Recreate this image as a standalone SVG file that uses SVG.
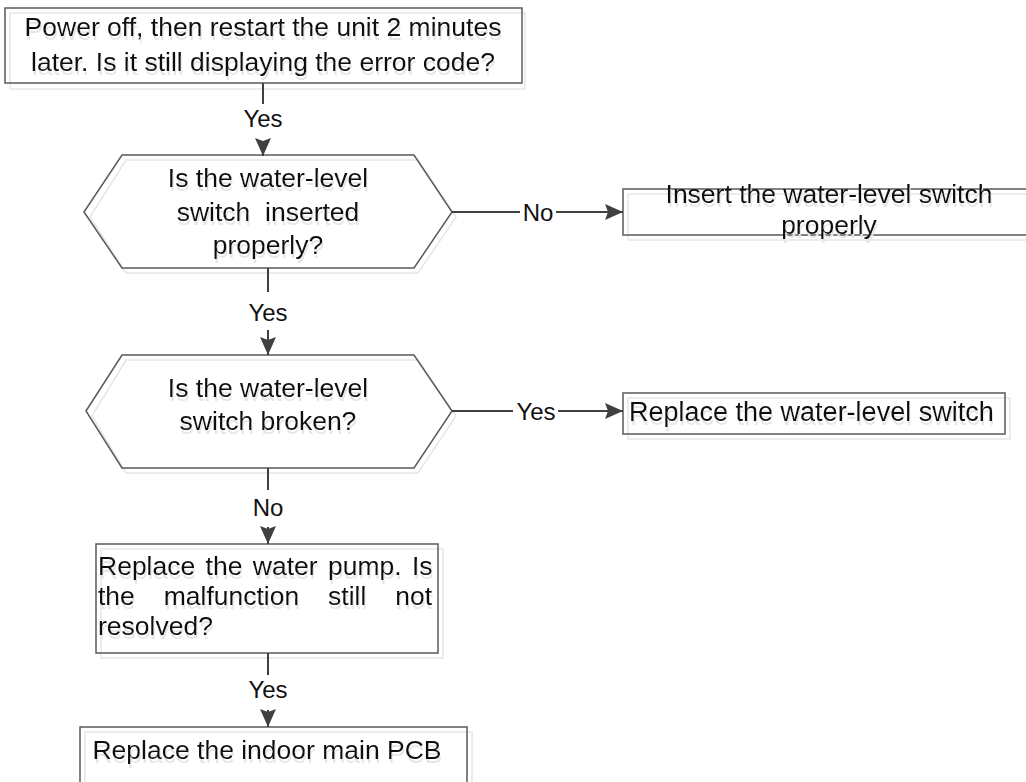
<svg xmlns="http://www.w3.org/2000/svg" width="1026" height="782" viewBox="0 0 1026 782">
<defs>
<marker id="ah" markerUnits="userSpaceOnUse" markerWidth="18" markerHeight="16" refX="18" refY="8" orient="auto"><path d="M0,0 L18,8 L0,16 L3,8 z" fill="#404040"/></marker>
<filter id="ts" x="-5%" y="-30%" width="110%" height="170%"><feFlood flood-color="#e6e6e6"/><feComposite in2="SourceAlpha" operator="in"/><feOffset dx="1" dy="4"/><feMerge><feMergeNode/><feMergeNode in="SourceGraphic"/></feMerge></filter>
</defs>
<style>
.shape{fill:none;stroke:#5a5a5a;stroke-width:1.5}
.shadow{fill:none;stroke:#e6e6e6;stroke-width:1.5}
.t{font-family:"Liberation Sans",Arial,sans-serif;font-size:26.5px;fill:#111;text-anchor:middle;filter:url(#ts)}
.lbl{font-family:"Liberation Sans",Arial,sans-serif;font-size:24px;fill:#111;text-anchor:middle}
.conn{fill:none;stroke:#404040;stroke-width:2}
</style>
<rect width="1026" height="782" fill="#fff"/>
<g id="n1">
<rect class="shadow" x="10" y="13" width="515" height="76"/>
<rect class="shape" x="5" y="8" width="517" height="75"/>
<text class="t" x="263" y="36">Power off, then restart the unit 2 minutes</text>
<text class="t" x="263" y="71">later. Is it still displaying the error code?</text>
</g>
<g id="n2">
<polygon class="shadow" points="90,217 126,160 418,160 456,217 418,273 126,273"/>
<polygon class="shape" points="84,212 122,155 414,155 452,212 414,268 122,268"/>
<text class="t" x="268" y="187">Is the water-level</text>
<text class="t" x="268" y="221" xml:space="preserve">switch  inserted</text>
<text class="t" x="268" y="254">properly?</text>
</g>
<g id="n3">
<rect class="shadow" x="628" y="194" width="410" height="46"/>
<rect class="shape" x="623" y="189" width="410" height="46"/>
<text class="t" x="829" y="203">Insert the water-level switch</text>
<text class="t" x="829" y="234">properly</text>
</g>
<g id="n4">
<polygon class="shadow" points="92,416 126,360 418,360 456,416 418,473 126,473"/>
<polygon class="shape" points="86,411 122,355 414,355 452,411 414,468 122,468"/>
<text class="t" x="268" y="397">Is the water-level</text>
<text class="t" x="268" y="430">switch broken?</text>
</g>
<g id="n5">
<rect class="shadow" x="628" y="398" width="382" height="41"/>
<rect class="shape" x="623" y="393" width="382" height="41"/>
<text class="t" x="629" y="421" style="text-anchor:start;font-size:27px">Replace the water-level switch</text>
</g>
<g id="n6">
<rect class="shadow" x="101" y="549" width="342" height="109"/>
<rect class="shape" x="96" y="544" width="342" height="109"/>
<text class="t" x="98" y="575" style="text-anchor:start;word-spacing:3px">Replace the water pump. Is</text>
<text class="t" x="98" y="605" style="text-anchor:start;word-spacing:21.5px">the malfunction still not</text>
<text class="t" x="98" y="635" style="text-anchor:start">resolved?</text>
</g>
<g id="n7">
<rect class="shadow" x="85" y="732" width="387" height="60"/>
<rect class="shape" x="80" y="727" width="387" height="60"/>
<text class="t" x="267" y="759">Replace the indoor main PCB</text>
</g>
<g id="connectors">
<path class="conn" d="M263,83 V104"/>
<path class="conn" d="M263,141 V156" marker-end="url(#ah)"/>
<text class="lbl" x="263" y="127">Yes</text>
<path class="conn" d="M452,212 H520"/>
<path class="conn" d="M556,212 H623" marker-end="url(#ah)"/>
<text class="lbl" x="538" y="221">No</text>
<path class="conn" d="M268,268 V292"/>
<path class="conn" d="M268,330 V355" marker-end="url(#ah)"/>
<text class="lbl" x="268" y="321">Yes</text>
<path class="conn" d="M452,411 H513"/>
<path class="conn" d="M558,411 H623" marker-end="url(#ah)"/>
<text class="lbl" x="536" y="420">Yes</text>
<path class="conn" d="M268,468 V490"/>
<path class="conn" d="M268,527 V544" marker-end="url(#ah)"/>
<text class="lbl" x="268" y="516">No</text>
<path class="conn" d="M268,653 V675"/>
<path class="conn" d="M268,710 V727" marker-end="url(#ah)"/>
<text class="lbl" x="268" y="698">Yes</text>
</g>
</svg>
